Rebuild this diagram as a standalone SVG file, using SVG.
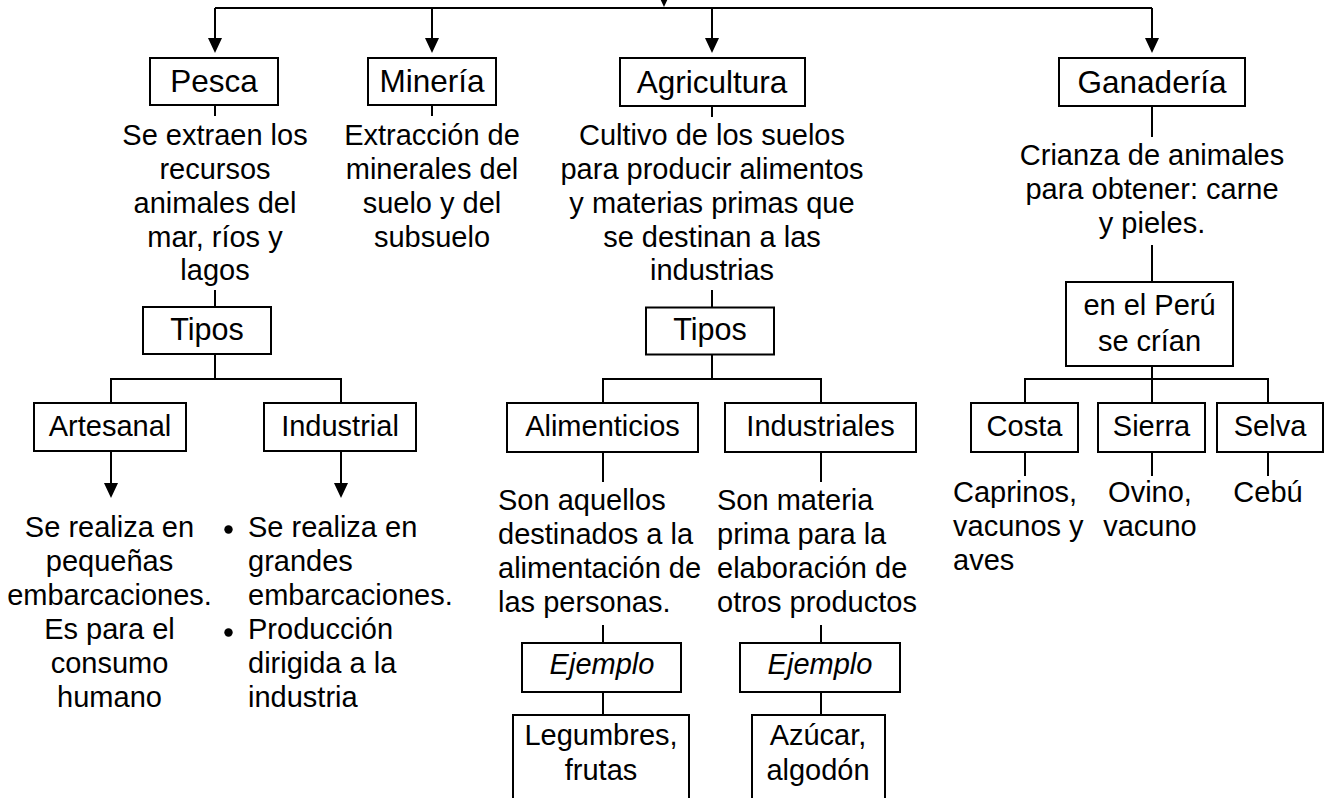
<svg xmlns="http://www.w3.org/2000/svg" width="1327" height="798" viewBox="0 0 1327 798">
<defs>
<style>
.bx{fill:#fff;stroke:#000;stroke-width:2}
.ln{fill:none;stroke:#000;stroke-width:2}
text{font-family:"Liberation Sans",Arial,sans-serif;font-size:29px;fill:#000}
.c{text-anchor:middle}
.big{font-size:31.5px}
.it{font-style:italic}
</style>
<marker id="ah" viewBox="0 0 15 14" refX="5" refY="7" markerWidth="15" markerHeight="14" orient="auto" markerUnits="userSpaceOnUse">
<path d="M0,0 L15,7 L0,14 z" fill="#000"/>
</marker>
</defs>
<rect width="1327" height="798" fill="#fff"/>
<g id="connectors">
<path class="ln" d="M215,8 H1152"/>
<path class="ln" d="M664,-20 V-3" marker-end="url(#ah)"/>
<path class="ln" d="M215,8 V43" marker-end="url(#ah)"/>
<path class="ln" d="M432,8 V43" marker-end="url(#ah)"/>
<path class="ln" d="M712,8 V43" marker-end="url(#ah)"/>
<path class="ln" d="M1152,8 V43" marker-end="url(#ah)"/>
<path class="ln" d="M215,105 V116 M215,290 V307 M215,354 V379 M111,403 V379 H341 V403"/>
<path class="ln" d="M111,451 V488" marker-end="url(#ah)"/>
<path class="ln" d="M341,451 V488" marker-end="url(#ah)"/>
<path class="ln" d="M432,105 V116"/>
<path class="ln" d="M712,106 V117 M712,290 V307.5 M712,354.5 V379 M603,403 V379 H821 V403 M603,452 V482 M821,452 V482 M603,625 V643 M821,625 V643 M603,692 V715 M821,692 V715"/>
<path class="ln" d="M1152,106 V137 M1152,245 V282 M1152,366 V403 M1025,403 V379 H1268 V403 M1025,452 V476 M1152,452 V476 M1268,452 V476"/>
</g>
<g id="pesca">
<rect class="bx" x="150" y="58" width="128" height="47"/>
<text class="c big" x="214" y="92">Pesca</text>
</g>
<g id="pesca-desc">
<text class="c" x="215" y="145">Se extraen los</text>
<text class="c" x="215" y="179">recursos</text>
<text class="c" x="215" y="213">animales del</text>
<text class="c" x="215" y="247">mar, ríos y</text>
<text class="c" x="215" y="280">lagos</text>
</g>
<g id="mineria">
<rect class="bx" x="368" y="58" width="128" height="47"/>
<text class="c big" x="432" y="92">Minería</text>
</g>
<g id="mineria-desc">
<text class="c" x="432" y="145">Extracción de</text>
<text class="c" x="432" y="179">minerales del</text>
<text class="c" x="432" y="213">suelo y del</text>
<text class="c" x="432" y="247">subsuelo</text>
</g>
<g id="agricultura">
<rect class="bx" x="620" y="58" width="185" height="48"/>
<text class="c big" x="712" y="93">Agricultura</text>
</g>
<g id="agricultura-desc">
<text class="c" x="712" y="145">Cultivo de los suelos</text>
<text class="c" x="712" y="179">para producir alimentos</text>
<text class="c" x="712" y="213">y materias primas que</text>
<text class="c" x="712" y="247">se destinan a las</text>
<text class="c" x="712" y="280">industrias</text>
</g>
<g id="ganaderia">
<rect class="bx" x="1059" y="58" width="186" height="48"/>
<text class="c big" x="1152" y="93">Ganadería</text>
</g>
<g id="ganaderia-desc">
<text class="c" x="1152" y="165">Crianza de animales</text>
<text class="c" x="1152" y="199">para obtener: carne</text>
<text class="c" x="1152" y="233">y pieles.</text>
</g>
<g id="pesca-tipos">
<rect class="bx" x="143" y="307" width="128" height="47"/>
<text class="c" x="207" y="340" style="font-size:30.5px">Tipos</text>
</g>
<g id="artesanal">
<rect class="bx" x="34" y="403" width="152" height="48"/>
<text class="c" x="110" y="436">Artesanal</text>
</g>
<g id="industrial">
<rect class="bx" x="264" y="403" width="152" height="48"/>
<text class="c" x="340" y="436">Industrial</text>
</g>
<g id="artesanal-desc">
<text class="c" x="109.5" y="537">Se realiza en</text>
<text class="c" x="109.5" y="571">pequeñas</text>
<text class="c" x="109.5" y="605">embarcaciones.</text>
<text class="c" x="109.5" y="639">Es para el</text>
<text class="c" x="109.5" y="673">consumo</text>
<text class="c" x="109.5" y="707">humano</text>
</g>
<g id="industrial-desc">
<circle cx="228.5" cy="529.5" r="4.2" fill="#000"/>
<circle cx="228.5" cy="632.5" r="4.2" fill="#000"/>
<text x="248" y="537">Se realiza en</text>
<text x="248" y="571">grandes</text>
<text x="248" y="605">embarcaciones.</text>
<text x="248" y="639">Producción</text>
<text x="248" y="673">dirigida a la</text>
<text x="248" y="707">industria</text>
</g>
<g id="agri-tipos">
<rect class="bx" x="646" y="307.5" width="128" height="47"/>
<text class="c" x="710" y="340" style="font-size:30.5px">Tipos</text>
</g>
<g id="alimenticios">
<rect class="bx" x="507" y="403" width="191" height="49"/>
<text class="c" x="602.5" y="436">Alimenticios</text>
</g>
<g id="industriales">
<rect class="bx" x="725" y="403" width="191" height="49"/>
<text class="c" x="820.5" y="436">Industriales</text>
</g>
<g id="alimenticios-desc">
<text x="498" y="510">Son aquellos</text>
<text x="498" y="544">destinados a la</text>
<text x="498" y="578">alimentación de</text>
<text x="498" y="612">las personas.</text>
</g>
<g id="industriales-desc">
<text x="717" y="510">Son materia</text>
<text x="717" y="544">prima para la</text>
<text x="717" y="578">elaboración de</text>
<text x="717" y="612">otros productos</text>
</g>
<g id="ejemplo1">
<rect class="bx" x="522" y="643" width="159" height="49"/>
<text class="c it" x="602" y="674">Ejemplo</text>
</g>
<g id="ejemplo2">
<rect class="bx" x="740" y="643" width="160" height="49"/>
<text class="c it" x="820" y="674">Ejemplo</text>
</g>
<g id="legumbres">
<rect class="bx" x="513" y="715" width="176" height="110"/>
<text class="c" x="601" y="745">Legumbres,</text>
<text class="c" x="601" y="780">frutas</text>
</g>
<g id="azucar">
<rect class="bx" x="752" y="715" width="133" height="110"/>
<text class="c" x="818" y="745">Azúcar,</text>
<text class="c" x="818" y="780">algodón</text>
</g>
<g id="peru">
<rect class="bx" x="1066" y="282" width="167" height="84"/>
<text class="c" x="1149.5" y="315">en el Perú</text>
<text class="c" x="1149.5" y="351">se crían</text>
</g>
<g id="costa">
<rect class="bx" x="971" y="403" width="107" height="49"/>
<text class="c" x="1024.5" y="436">Costa</text>
</g>
<g id="sierra">
<rect class="bx" x="1098" y="403" width="107" height="49"/>
<text class="c" x="1151.5" y="436">Sierra</text>
</g>
<g id="selva">
<rect class="bx" x="1217" y="403" width="106" height="49"/>
<text class="c" x="1270" y="436">Selva</text>
</g>
<g id="costa-desc">
<text x="953" y="502">Caprinos,</text>
<text x="953" y="536">vacunos y</text>
<text x="953" y="570">aves</text>
</g>
<g id="sierra-desc">
<text class="c" x="1150" y="502">Ovino,</text>
<text class="c" x="1150" y="536">vacuno</text>
</g>
<g id="selva-desc">
<text class="c" x="1268" y="502">Cebú</text>
</g>
</svg>
